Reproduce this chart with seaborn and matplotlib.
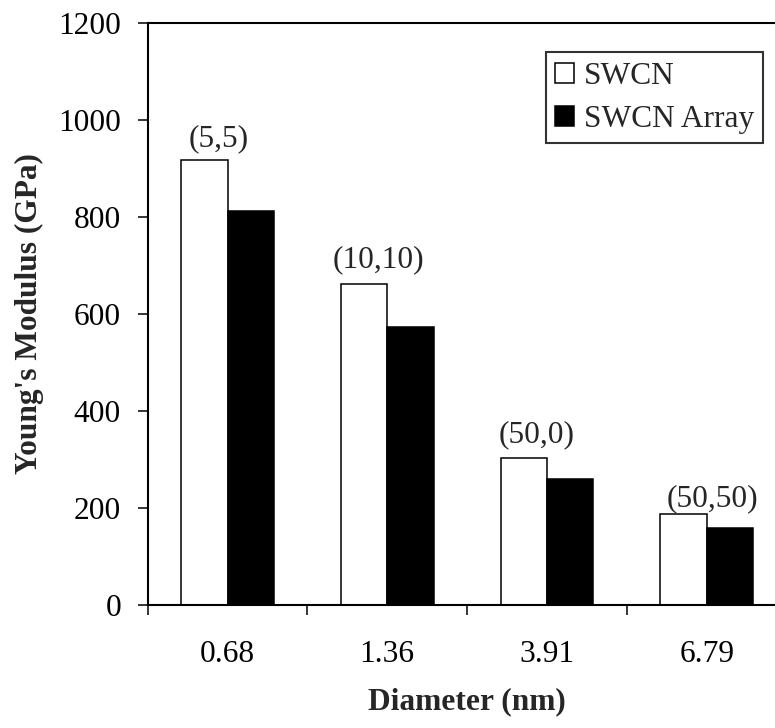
import matplotlib
matplotlib.use("Agg")
import matplotlib.pyplot as plt
import seaborn as sns
import pandas as pd
from matplotlib.patches import Patch

# ---- data ----
diameters = ["0.68", "1.36", "3.91", "6.79"]
swcn = [918, 661, 303, 187]
swcn_array = [811, 573, 260, 159]
chirality = ["(5,5)", "(10,10)", "(50,0)", "(50,50)"]
series_names = ["SWCN", "SWCN Array"]
y_ticks = [0, 200, 400, 600, 800, 1000, 1200]

df = pd.DataFrame({
    "Diameter": diameters * 2,
    "Modulus": swcn + swcn_array,
    "Type": [series_names[0]] * 4 + [series_names[1]] * 4,
})

sns.set_theme(style="white")
plt.rcParams["font.family"] = ["Liberation Serif", "DejaVu Serif"]
FS = 22.6

fig = plt.figure(figsize=(7.75, 7.28), dpi=100)
W, H = 775, 728
ax_left, ax_right, ax_top, ax_bot = 147.7, 786.5, 22.7, 605
ax = fig.add_axes([ax_left / W, 1 - ax_bot / H, (ax_right - ax_left) / W, (ax_bot - ax_top) / H])

sns.barplot(data=df, x="Diameter", y="Modulus", hue="Type", order=diameters,
            hue_order=series_names, palette=["white", "black"],
            edgecolor="black", linewidth=1.1, width=0.58, gap=0, ax=ax, legend=False)

ax.set_xlim(-0.5, len(diameters) - 0.5)
ax.set_ylim(0, 1200)
ax.set_yticks(y_ticks)
ax.set_yticklabels([str(v) for v in y_ticks], fontsize=FS)
ax.set_xticks(range(len(diameters)))
ax.set_xticklabels(diameters, fontsize=FS)
ax.set_xticks([i - 0.5 for i in range(len(diameters) + 1)], minor=True)
ax.tick_params(axis="x", which="major", length=0, pad=25, colors="black")
ax.tick_params(axis="x", which="minor", length=7.2, width=1.1, direction="out", bottom=True, color="black")
ax.tick_params(axis="y", which="major", length=7.2, width=1.1, direction="out", left=True, pad=12, colors="black")
ax.set_xlabel("")
ax.set_ylabel("")
for s in ["left", "bottom", "top"]:
    ax.spines[s].set_visible(True)
    ax.spines[s].set_color("black")
    ax.spines[s].set_linewidth(1.5)
ax.spines["right"].set_visible(False)

# chirality labels above SWCN bars
label_dx = [-0.056, -0.058, -0.063, 0.038]
label_dy = [12, 21, 19, 2]
for i, (lab, v) in enumerate(zip(chirality, swcn)):
    ax.text(i + label_dx[i], v + label_dy[i], lab, ha="center", va="bottom", fontsize=FS)

fig.text(29 / W, 1 - 314 / H, "Young's Modulus (GPa)", rotation=90, ha="center", va="center",
         fontsize=FS, fontweight="bold")
fig.text(467 / W, 1 - 702 / H, "Diameter (nm)", ha="center", va="center",
         fontsize=FS, fontweight="bold")

handles = [Patch(facecolor="white", edgecolor="black", linewidth=1.1),
           Patch(facecolor="black", edgecolor="black", linewidth=1.1)]
leg = ax.legend(handles, series_names, loc="upper right",
                bbox_to_anchor=(763.3 / W, 1 - 52.3 / H), bbox_transform=fig.transFigure,
                borderaxespad=0, fontsize=FS, frameon=True, fancybox=False,
                handlelength=0.6, handleheight=0.6, handletextpad=0.3,
                borderpad=0.3, labelspacing=0.45)
leg.get_frame().set_edgecolor("black")
leg.get_frame().set_linewidth(1.5)

fig.savefig("out.png", dpi=100)
